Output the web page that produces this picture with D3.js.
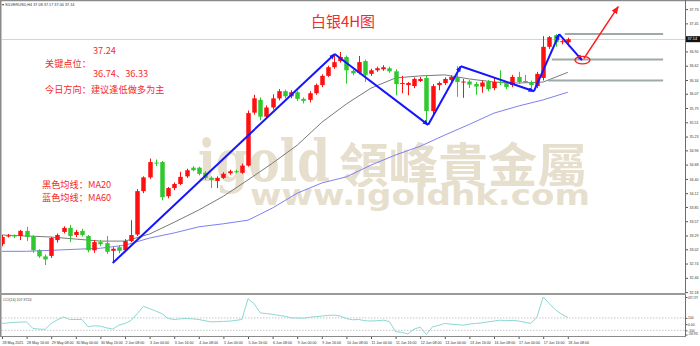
<!DOCTYPE html>
<html><head><meta charset="utf-8">
<script src="https://cdn.jsdelivr.net/npm/d3@7/dist/d3.min.js"></script>
<style>
html,body{margin:0;padding:0;background:#fff;overflow:hidden;}
svg{display:block;}
</style></head><body>
<svg id="c" width="700" height="346"></svg>
<script>
// ---------------- data ----------------
const symbolText = "SILVERUSD,H4";
const timeLabels = ["28 May 2025","28 May 16:00","29 May 08:00","30 May 00:00","30 May 16:00","2 Jun 08:00","3 Jun 00:00","3 Jun 16:00","4 Jun 08:00","5 Jun 00:00","5 Jun 16:00","6 Jun 08:00","9 Jun 00:00","9 Jun 16:00","10 Jun 08:00","11 Jun 00:00","11 Jun 16:00","12 Jun 08:00","13 Jun 00:00","13 Jun 16:00","16 Jun 08:00","17 Jun 00:00","17 Jun 16:00","18 Jun 08:00"];
const labelBars = [0,4,8,12,16,20,24,28,32,36,40,44,48,52,56,60,64,68,72,76,80,84,88,92];

const opens  = [33.12,33.28,33.29,33.28,33.38,33.28,33.00,32.88,32.89,33.20,33.36,33.44,33.30,33.38,33.28,33.00,33.16,33.14,32.99,33.06,33.00,33.18,33.31,34.16,34.43,34.72,34.73,34.06,34.22,34.30,34.45,34.62,34.62,34.52,34.42,34.36,34.42,34.51,34.55,34.52,34.66,35.70,35.95,35.62,35.80,35.98,36.12,36.02,36.10,35.97,35.95,36.08,36.24,36.42,36.59,36.71,36.79,36.52,36.48,36.71,36.46,36.53,36.55,36.57,36.51,36.26,36.24,36.22,36.32,36.38,35.73,36.24,36.28,36.34,36.40,36.29,36.31,36.26,36.21,36.30,36.18,36.30,36.28,36.24,36.40,36.32,36.30,36.22,36.38,36.99,37.22,37.08,37.08];
const highs  = [33.30,33.32,33.31,33.40,33.46,33.30,33.02,32.92,33.26,33.33,33.47,33.50,33.40,33.42,33.30,33.20,33.20,33.28,33.06,33.10,33.22,33.59,34.20,34.45,34.80,34.78,34.75,34.24,34.33,34.54,34.60,34.65,34.64,34.55,34.45,34.45,34.53,34.58,34.58,34.70,35.74,36.05,36.00,35.84,36.06,36.16,36.15,36.14,36.13,36.00,36.12,36.27,36.45,36.62,36.83,36.89,36.82,36.55,36.81,36.74,36.56,36.60,36.63,36.60,36.55,36.42,36.30,36.39,36.40,36.42,36.26,36.31,36.39,36.43,36.61,36.36,36.34,36.30,36.33,36.34,36.38,36.53,36.31,36.44,36.50,36.44,36.33,36.50,37.20,37.20,37.24,37.13,37.17];
const lows   = [33.08,33.25,33.24,33.20,33.18,32.95,32.85,32.71,32.85,33.15,33.33,33.16,33.26,33.27,32.96,32.95,33.08,32.93,32.77,32.94,32.96,33.16,33.28,34.12,34.40,34.65,33.98,34.02,34.18,34.28,34.42,34.55,34.47,34.38,34.22,34.22,34.40,34.48,34.51,34.50,34.64,35.66,35.55,35.58,35.76,35.94,35.98,35.98,35.93,35.88,35.90,36.05,36.20,36.40,36.56,36.68,36.27,36.43,36.45,36.30,36.42,36.50,36.52,36.48,36.04,36.08,36.04,36.18,36.30,35.46,35.63,36.14,36.24,36.31,36.01,35.99,36.18,36.05,36.09,36.12,36.14,36.24,36.16,36.20,36.26,36.28,36.12,36.18,36.33,36.95,36.99,37.04,37.00];
const closes = [33.26,33.29,33.27,33.38,33.26,33.00,32.88,32.82,33.24,33.30,33.44,33.28,33.36,33.30,33.00,33.16,33.12,32.97,33.03,32.99,33.18,33.30,34.16,34.43,34.73,34.71,34.04,34.22,34.30,34.44,34.57,34.57,34.50,34.42,34.38,34.42,34.50,34.55,34.54,34.66,35.69,35.98,35.62,35.80,35.98,36.12,36.02,36.10,35.97,35.93,36.08,36.24,36.42,36.59,36.69,36.79,36.53,36.47,36.69,36.44,36.53,36.57,36.59,36.51,36.26,36.28,36.28,36.36,36.36,35.73,36.22,36.28,36.36,36.40,36.30,36.31,36.25,36.21,36.29,36.16,36.30,36.28,36.20,36.40,36.30,36.31,36.24,36.46,36.99,37.18,37.08,37.10,37.14];

// moving averages read at every 4th bar
const maBars = [0,4,8,12,16,20,24,28,32,36,40,44,48,52,56,60,64,68,72,76,80,84,88,92];
const ma20 = [33.30,33.28,33.26,33.22,33.18,33.18,33.32,33.55,33.79,34.06,34.38,34.71,35.06,35.51,35.87,36.18,36.38,36.42,36.44,36.36,36.30,36.28,36.30,36.49];
const ma60 = [32.98,32.98,33.00,33.02,33.04,33.10,33.24,33.34,33.46,33.52,33.59,33.83,34.12,34.32,34.44,34.67,34.87,35.04,35.26,35.47,35.69,35.83,35.95,36.10];

// CCI(14) per bar
const cci = [11,20,28,33,36,-68,-80,-84,11,70,116,75,75,75,-43,-27,-32,-60,-80,-16,11,60,170,286,250,210,170,91,75,85,91,85,75,55,36,40,44,48,60,75,409,329,180,170,159,140,127,100,100,95,110,120,130,140,145,130,90,70,75,55,50,55,64,40,-122,-130,-159,-80,-48,-166.992,-43,-20,11,0,-10,-16,0,11,20,36,50,64,55,60,50,30,11,120,437.197,330,230,160,107.9724];
const cciTicks = [437.197,100,0,-100,-166.992];
const cciTickText = ["437.197","100","0.00","-100","-166.992"];
const cciLevels = [100,-100];

// price axis labels
const priceTicks = [37.73,37.45,36.90,36.62,36.34,36.07,35.79,35.51,35.23,34.96,34.68,34.40,34.12,33.85,33.57,33.29,33.02,32.74,32.46,32.18];
const bidPrice = 37.14;

// analysis drawings
const zzBars   = [18, 54.1, 69.3, 74.6, 86.5, 90.6, 94.3];
const zzPrices = [32.75, 36.85, 35.46, 36.61, 36.12, 37.24, 36.73];
const arrowBars   = [94.6, 100.2];
const arrowPrices = [36.76, 37.78];
const keyLevels = [37.24, 36.74, 36.33];
const keyStart  = [91.5, 89.4, 88.8];
const keyEnd    = 107.5;

// ---------------- layout ----------------
const W = 700, H = 346;
const axisX = 685, mainTop = 2, mainBottom = 293, cciTop = 295, cciBottom = 336;
const svg = d3.select("#c");

const x = d3.scaleLinear().domain([0, 100]).range([2, 2 + 100 * 6.15]);
const y = d3.scaleLinear().domain([32.18, 37.73]).range([292.1, 9.1]);
const yc = d3.scaleLinear().domain([-166.992, 437.197]).range([334.5, 297]);

const defs = svg.append("defs");
defs.append("clipPath").attr("id","mainClip").append("rect")
  .attr("x",2).attr("y",mainTop).attr("width",axisX-2).attr("height",mainBottom-mainTop);
defs.append("clipPath").attr("id","cciClip").append("rect")
  .attr("x",2).attr("y",cciTop).attr("width",axisX-2).attr("height",cciBottom-cciTop);
function marker(id, color, size){
  defs.append("marker").attr("id",id).attr("viewBox","0 0 10 10").attr("refX",9).attr("refY",5)
    .attr("markerWidth",size).attr("markerHeight",size).attr("markerUnits","userSpaceOnUse")
    .attr("orient","auto").append("path").attr("d","M0,1 L10,5 L0,9 Z").attr("fill",color);
}
marker("blueHead","#1515ff",6);
marker("redHead","#ff1a1a",8);

// watermark
const wm = svg.append("g").attr("fill","#e7dfcd");
wm.append("text").attr("x",198).attr("y",181).attr("font-family","DejaVu Serif")
  .attr("font-weight","bold").attr("font-size",57).attr("textLength",132)
  .attr("lengthAdjust","spacingAndGlyphs").text("igold");
wm.append("text").attr("x",339).attr("y",182).attr("font-family","Noto Sans CJK TC")
  .attr("font-weight","bold").attr("font-size",47).attr("textLength",248)
  .attr("lengthAdjust","spacingAndGlyphs").text("領峰貴金屬");
wm.append("text").attr("x",250).attr("y",205).attr("font-family","DejaVu Sans")
  .attr("font-weight","bold").attr("font-size",29).attr("textLength",340)
  .attr("lengthAdjust","spacingAndGlyphs").text("www.igoldhk.com");

// frame
svg.append("line").attr("x1",0).attr("x2",W).attr("y1",0.5).attr("y2",0.5).attr("stroke","#8a8a8a").attr("stroke-width",1.5);
svg.append("line").attr("x1",0.75).attr("x2",0.75).attr("y1",0).attr("y2",cciBottom).attr("stroke","#8a8a8a").attr("stroke-width",1.5);
svg.append("line").attr("x1",axisX+0.5).attr("x2",axisX+0.5).attr("y1",0).attr("y2",cciBottom).attr("stroke","#6e6e6e");
svg.append("line").attr("x1",0).attr("x2",axisX+1).attr("y1",mainBottom+1).attr("y2",mainBottom+1).attr("stroke","#9a9a9a").attr("stroke-width",2);
svg.append("line").attr("x1",0).attr("x2",axisX+1).attr("y1",cciBottom+0.5).attr("y2",cciBottom+0.5).attr("stroke","#8a8a8a");

const main = svg.append("g").attr("clip-path","url(#mainClip)");

// bid line
main.append("line").attr("x1",2).attr("x2",axisX).attr("y1",Math.round(y(bidPrice))+0.5).attr("y2",Math.round(y(bidPrice))+0.5)
  .attr("stroke","#d4d4d4").attr("stroke-width",1);

// moving averages
const maLine = d3.line().x((d,i)=>x(maBars[i])).y(d=>y(d));
main.append("path").datum(ma60).attr("d",maLine).attr("fill","none").attr("stroke","#7f7ff2").attr("stroke-width",1);
main.append("path").datum(ma20).attr("d",maLine).attr("fill","none").attr("stroke","#7a7a7a").attr("stroke-width",1);

// candles
const up = "#ff1010", dn = "#30c830";
const cg = main.append("g");
opens.forEach((o,i)=>{
  const c = closes[i], col = c >= o ? up : dn;
  const cx = Math.round(x(i)) + 0.5;
  cg.append("line").attr("x1",cx).attr("x2",cx).attr("y1",y(highs[i])).attr("y2",y(lows[i])).attr("stroke",col).attr("stroke-width",1);
  const top = y(Math.max(o,c)), bot = y(Math.min(o,c));
  cg.append("rect").attr("x",cx-2.25).attr("y",top).attr("width",4.5).attr("height",Math.max(1,bot-top)).attr("fill",col);
});

// key levels
keyLevels.forEach((v,i)=>{
  main.append("line").attr("x1",x(keyStart[i])).attr("x2",x(keyEnd)).attr("y1",y(v)).attr("y2",y(v))
    .attr("stroke","#9eaaa8").attr("stroke-width",2);
});

// zigzag
for(let k=0;k<zzBars.length-1;k++){
  main.append("line").attr("x1",x(zzBars[k])).attr("y1",y(zzPrices[k])).attr("x2",x(zzBars[k+1])).attr("y2",y(zzPrices[k+1]))
    .attr("stroke","#1515ff").attr("stroke-width",2).attr("marker-end","url(#blueHead)");
}
// red forecast arrow & ellipse
main.append("line").attr("x1",x(arrowBars[0])).attr("y1",y(arrowPrices[0])).attr("x2",x(arrowBars[1])).attr("y2",y(arrowPrices[1]))
  .attr("stroke","#ff1a1a").attr("stroke-width",1.5).attr("marker-end","url(#redHead)");
main.append("ellipse").attr("cx",x(zzBars[6])+0.5).attr("cy",y(zzPrices[6])).attr("rx",7.5).attr("ry",3.8)
  .attr("fill","none").attr("stroke","#ff1a1a").attr("stroke-width",1.3);

// price axis
const pAxis = svg.append("g").attr("transform",`translate(${axisX+1},0)`)
  .call(d3.axisRight(y).tickValues(priceTicks).tickSize(2).tickPadding(1.5).tickFormat(d3.format(".2f")));
pAxis.select(".domain").remove();
pAxis.selectAll("text").attr("font-size",3.6).attr("font-family","Liberation Sans").attr("fill","#333");
pAxis.selectAll("line").attr("stroke","#555");

// bid label
const by = y(bidPrice);
svg.append("rect").attr("x",axisX+1).attr("y",by-3).attr("width",W-axisX-1).attr("height",6).attr("fill","#111");
svg.append("text").attr("x",axisX+2.5).attr("y",by+1.3).attr("font-size",3.8).attr("font-family","Liberation Sans")
  .attr("fill","#fff").text(d3.format(".2f")(bidPrice));

// header
svg.append("text").attr("x",2).attr("y",5.5).attr("font-size",3.8).attr("font-family","Liberation Sans").attr("fill","#333")
  .text(`▾ ${symbolText}  ${d3.format(".2f")(opens[92])} ${d3.format(".2f")(highs[92])} ${d3.format(".2f")(lows[92])} ${d3.format(".2f")(closes[92])}`);

// title & notes
const red = "#f52a2a";
svg.append("text").attr("x",343).attr("y",26.5).attr("text-anchor","middle").attr("font-size",15)
  .attr("font-family","Noto Sans CJK SC").attr("fill",red).text("白银4H图");
const note = (tx,px,py)=>svg.append("text").attr("x",px).attr("y",py).attr("font-size",9.2)
  .attr("font-family","Noto Sans CJK SC").attr("fill",red).text(tx);
note(keyLevels[0].toFixed(2),93,53.5);
note("关键点位：",45,67);
note(`${keyLevels[1].toFixed(2)}、${keyLevels[2].toFixed(2)}`,93,76.5);
note("今日方向：建议逢低做多为主",45,92.5);
note("黑色均线：MA20",42,187.5);
note("蓝色均线：MA60",42,201);

// CCI panel
const cciG = svg.append("g").attr("clip-path","url(#cciClip)");
cciLevels.forEach(v=>{
  cciG.append("line").attr("x1",2).attr("x2",axisX).attr("y1",yc(v)).attr("y2",yc(v))
    .attr("stroke","#b8b8b8").attr("stroke-width",0.8).attr("stroke-dasharray","1.5,1.5");
});
cciG.append("path").datum(cci).attr("d",d3.line().x((d,i)=>x(i)).y(d=>yc(d)))
  .attr("fill","none").attr("stroke","#8ad8d2").attr("stroke-width",1);
svg.append("text").attr("x",3).attr("y",300.5).attr("font-size",3.6).attr("font-family","Liberation Sans").attr("fill","#444")
  .text(`CCI(14) ${cci[cci.length-1]}`);
const cAxis = svg.append("g").attr("transform",`translate(${axisX+1},0)`)
  .call(d3.axisRight(yc).tickValues(cciTicks).tickSize(1.5).tickPadding(0.6).tickFormat((d,i)=>cciTickText[i]));
cAxis.select(".domain").remove();
cAxis.selectAll("text").attr("font-size",3.3).attr("font-family","Liberation Sans").attr("fill","#333")
  .each(function(d,i){ if(cciTickText[i].length > 5){ d3.select(this).attr("textLength",9.8).attr("lengthAdjust","spacingAndGlyphs"); } });
cAxis.selectAll("text").filter((d,i)=>i===cciTicks.length-1).attr("dy","0");
cAxis.selectAll("line").attr("stroke","#555");

// time axis
const tAxis = svg.append("g").attr("transform",`translate(0,${cciBottom+1})`)
  .call(d3.axisBottom(x).tickValues(labelBars).tickSize(2).tickPadding(2).tickFormat((d,i)=>timeLabels[i]));
tAxis.select(".domain").remove();
tAxis.selectAll("text").attr("font-size",3.6).attr("font-family","Liberation Sans").attr("fill","#333").attr("text-anchor","start");
tAxis.selectAll("line").attr("stroke","#555");
</script>
</body></html>
